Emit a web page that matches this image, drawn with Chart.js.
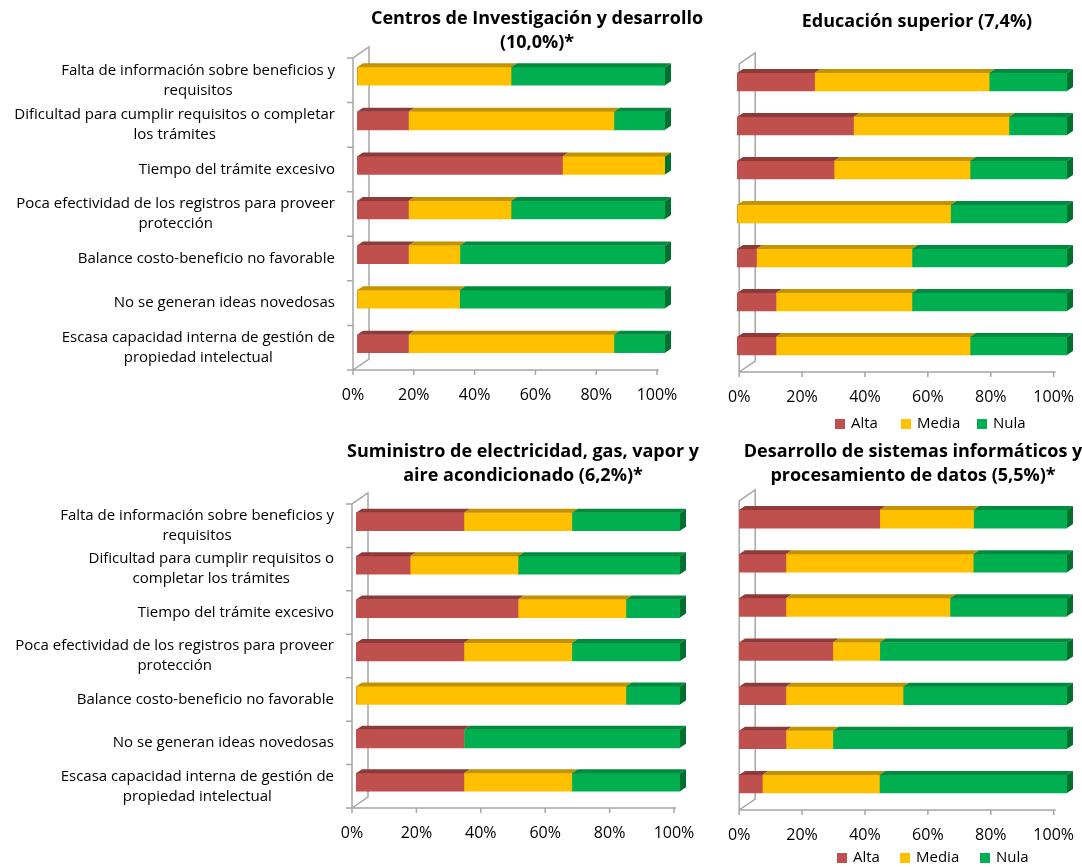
<!DOCTYPE html>
<html>
<head>
<meta charset="utf-8">
<script src="https://cdn.jsdelivr.net/npm/chart.js@4.4.1/dist/chart.umd.min.js"></script>
<style>
    body { margin: 0; background: #fff; }
    #page { position: relative; width: 1082px; height: 867px; overflow: hidden; }
    canvas { position: absolute; }
</style>
</head>
<body>
<div id="page">
    <canvas id="centros" width="720" height="440" style="left:0;top:0"></canvas>
    <canvas id="educacion" width="362" height="440" style="left:720px;top:0"></canvas>
    <canvas id="suministro" width="720" height="427" style="left:0;top:440px"></canvas>
    <canvas id="sistemas" width="362" height="427" style="left:720px;top:440px"></canvas>
</div>
<script>
// categorias (misma lista en todos los paneles, con distinto corte de linea)
const categoriesTop = [
    ['Falta de información sobre beneficios y', 'requisitos'],
    ['Dificultad para cumplir requisitos o completar', 'los trámites'],
    ['Tiempo del trámite excesivo'],
    ['Poca efectividad de los registros para proveer', 'protección'],
    ['Balance costo-beneficio no favorable'],
    ['No se generan ideas novedosas'],
    ['Escasa capacidad interna de gestión de', 'propiedad intelectual']
];
const categoriesBottom = [
    ['Falta de información sobre beneficios y', 'requisitos'],
    ['Dificultad para cumplir requisitos o', 'completar los trámites'],
    ['Tiempo del trámite excesivo'],
    ['Poca efectividad de los registros para proveer', 'protección'],
    ['Balance costo-beneficio no favorable'],
    ['No se generan ideas novedosas'],
    ['Escasa capacidad interna de gestión de', 'propiedad intelectual']
];
const seriesNames = ['Alta', 'Media', 'Nula'];
const xTicks = [0, 20, 40, 60, 80, 100];

const centrosAlta  = [0, 16.7, 66.7, 16.7, 16.7, 0, 16.7];
const centrosMedia = [50, 66.7, 33.3, 33.3, 16.7, 33.3, 66.7];
const centrosNula  = [50, 16.6, 0, 50, 66.6, 66.7, 16.6];

const educAlta  = [23.5, 35.3, 29.4, 0, 5.9, 11.8, 11.8];
const educMedia = [52.9, 47.1, 41.2, 64.7, 47.1, 41.2, 58.8];
const educNula  = [23.6, 17.6, 29.4, 35.3, 47.0, 47.0, 29.4];

const sumAlta  = [33.3, 16.7, 50, 33.3, 0, 33.3, 33.3];
const sumMedia = [33.3, 33.3, 33.3, 33.3, 83.3, 0, 33.3];
const sumNula  = [33.4, 50, 16.7, 33.4, 16.7, 66.7, 33.4];

const sisAlta  = [42.9, 14.3, 14.3, 28.6, 14.3, 14.3, 7.1];
const sisMedia = [28.6, 57.1, 50, 14.3, 35.7, 14.3, 35.7];
const sisNula  = [28.5, 28.6, 35.7, 57.1, 50, 71.4, 57.2];

const colors = ['#C0504D', '#FFC000', '#00B050'];
const topColors = ['#8E3A38', '#C29200', '#008A3D'];
const sideColor = '#00702F';
const FONT = '"Open Sans", sans-serif';

const shade = (ctx, pts, color) => {
    ctx.beginPath();
    ctx.moveTo(pts[0][0], pts[0][1]);
    for (let i = 1; i < pts.length; i++) ctx.lineTo(pts[i][0], pts[i][1]);
    ctx.closePath();
    ctx.fillStyle = color;
    ctx.fill();
};

// barras 3d, marco, etiquetas, titulo y leyenda
const panel3d = {
    id: 'panel3d',
    beforeDatasetsDraw(chart, args, o) {
        const ctx = chart.ctx;
        const a = chart.chartArea;
        const ys = chart.scales.y;
        ctx.save();
        ctx.strokeStyle = '#A6A6A6';
        ctx.lineWidth = 1.5;
        ctx.beginPath();
        // pared izquierda
        ctx.moveTo(a.left, a.bottom);
        ctx.lineTo(a.left, a.top);
        ctx.lineTo(a.left + 16, a.top - 11);
        ctx.lineTo(a.left + 16, a.bottom - 11);
        ctx.lineTo(a.left, a.bottom);
        // piso
        ctx.moveTo(a.left, a.bottom);
        ctx.lineTo(a.right + 2, a.bottom);
        const xs = chart.scales.x;
        xTicks.forEach(v => {
            const px = xs.getPixelForValue(v);
            ctx.moveTo(px, a.bottom);
            ctx.lineTo(px, a.bottom + 5);
        });
        if (o.catTicks) {
            const band = (a.bottom - a.top) / ys.getLabels().length;
            for (let i = 0; i <= ys.getLabels().length; i++) {
                ctx.moveTo(a.left - 6, a.top + band * i);
                ctx.lineTo(a.left, a.top + band * i);
            }
        }
        ctx.stroke();
        ctx.restore();

        const k = (o.barRight - o.barLeft) / (a.right - a.left);
        ctx.save();
        ctx.translate(o.barLeft - a.left * k, -o.lift);
        ctx.scale(k, 1);
    },
    afterDatasetsDraw(chart, args, o) {
        const ctx = chart.ctx;
        ctx.restore();
        const a = chart.chartArea;
        const k = (o.barRight - o.barLeft) / (a.right - a.left);
        const map = x => o.barLeft + (x - a.left) * k;
        const dx = 6, dy = 4;
        const n = chart.data.labels.length;
        for (let j = 0; j < n; j++) {
            let end = 0, top = 0, bottom = 0;
            chart.data.datasets.forEach((ds, i) => {
                const el = chart.getDatasetMeta(i).data[j];
                const p = el.getProps(['x', 'y', 'base', 'height'], true);
                const x0 = map(Math.min(p.x, p.base));
                const x1 = map(Math.max(p.x, p.base));
                top = p.y - p.height / 2 - o.lift;
                bottom = p.y + p.height / 2 - o.lift;
                end = Math.max(end, x1);
                if (x1 - x0 > 0.5) {
                    shade(ctx, [[x0, top], [x1, top], [x1 + dx, top - dy], [x0 + dx, top - dy]], topColors[i]);
                }
            });
            shade(ctx, [[end, top], [end + dx, top - dy], [end + dx, bottom - dy], [end, bottom]], sideColor);
        }
    },
    afterDraw(chart, args, o) {
        const ctx = chart.ctx;
        const ys = chart.scales.y;
        ctx.save();
        ctx.fillStyle = '#000';
        ctx.textBaseline = 'middle';
        ctx.textAlign = 'center';
        if (o.labels) {
            ctx.font = '15px ' + FONT;
            o.labels.forEach((lines, j) => {
                const y = ys.getPixelForValue(j);
                const w = Math.max(...lines.map(t => ctx.measureText(t).width));
                const cx = o.labelRight - w / 2;
                lines.forEach((t, li) => {
                    ctx.fillText(t, cx, y + (li - (lines.length - 1) / 2) * 20);
                });
            });
        }
        ctx.font = 'bold 18px ' + FONT;
        o.title.forEach((t, li) => {
            ctx.fillText(t, o.titleX, o.titleY + li * 24);
        });
        if (o.legend) {
            ctx.font = '15px ' + FONT;
            ctx.textAlign = 'left';
            o.legend.forEach((lx, i) => {
                ctx.fillStyle = colors[i];
                ctx.fillRect(lx, o.legendY - 5, 10, 10);
                ctx.fillStyle = '#000';
                ctx.fillText(seriesNames[i], lx + 16, o.legendY);
            });
        }
        ctx.restore();
    }
};

const initPanel = (id, labels, alta, media, nula, pad, deco) => {
    const datasets = [alta, media, nula].map((values, i) => ({
        label: seriesNames[i],
        data: values,
        backgroundColor: colors[i],
        borderWidth: 0,
        barThickness: 18
    }));
    new Chart(document.getElementById(id), {
        type: 'bar',
        data: { labels: labels.map(l => l.join(' ')), datasets: datasets },
        options: {
            indexAxis: 'y',
            responsive: false,
            animation: false,
            layout: { padding: pad },
            scales: {
                x: {
                    stacked: true,
                    min: 0,
                    max: 100,
                    grid: { display: false },
                    border: { display: false },
                    ticks: {
                        stepSize: 20,
                        padding: 8,
                        maxRotation: 0,
                        color: '#000',
                        font: { family: FONT, size: 16 },
                        callback: v => v + '%'
                    },
                    afterFit: s => { s.height = 40; }
                },
                y: { stacked: true, display: false }
            },
            plugins: {
                legend: { display: false },
                tooltip: { enabled: false },
                panel3d: deco
            }
        },
        plugins: [panel3d]
    });
};

initPanel('centros', categoriesTop, centrosAlta, centrosMedia, centrosNula,
    { left: 353, right: 63, top: 58, bottom: 30 },
    { barLeft: 357, barRight: 665, lift: 4, catTicks: true, labels: categoriesTop, labelRight: 335,
      title: ['Centros de Investigación y desarrollo', '(10,0%)*'], titleX: 537, titleY: 19 });

initPanel('educacion', categoriesTop, educAlta, educMedia, educNula,
    { left: 14, right: 24, top: 64, bottom: 28 },
    { barLeft: 17, barRight: 347, lift: 4, catTicks: false,
      title: ['Educación superior (7,4%)'], titleX: 197, titleY: 22,
      legend: [115, 181, 257], legendY: 424 });

initPanel('suministro', categoriesBottom, sumAlta, sumMedia, sumNula,
    { left: 352, right: 46, top: 64, bottom: 19 },
    { barLeft: 356, barRight: 680, lift: 4, catTicks: true, labels: categoriesBottom, labelRight: 334,
      title: ['Suministro de electricidad, gas, vapor y', 'aire acondicionado (6,2%)*'], titleX: 523, titleY: 12 });

initPanel('sistemas', categoriesBottom, sisAlta, sisMedia, sisNula,
    { left: 15, right: 24, top: 61, bottom: 17 },
    { barLeft: 19, barRight: 347, lift: 4, catTicks: false,
      title: ['Desarrollo de sistemas informáticos y', 'procesamiento de datos (5,5%)*'], titleX: 193, titleY: 12,
      legend: [117, 180, 260], legendY: 418 });
</script>
</body>
</html>
